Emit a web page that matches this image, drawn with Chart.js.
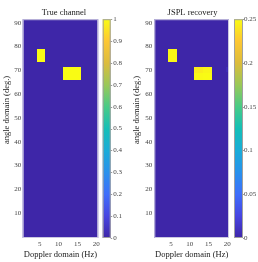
<!DOCTYPE html>
<html>
<head>
<meta charset="utf-8">
<script src="https://cdn.jsdelivr.net/npm/chart.js@4.4.0/dist/chart.umd.min.js"></script>
<style>
  html, body { margin: 0; padding: 0; background: #fff; }
  #wrap { position: relative; width: 258px; height: 262px; overflow: hidden; }
  .pane { position: absolute; top: 0; height: 262px; }
</style>
</head>
<body>
<div id="wrap">
  <div class="pane" style="left:0;width:128px"><canvas id="trueChart" width="128" height="262"></canvas></div>
  <div class="pane" style="left:127px;width:131px"><canvas id="jsplChart" width="131" height="262"></canvas></div>
</div>
<script>
// axis ticks
const dopplerTicks = [5, 10, 15, 20];
const angleTicks = [10, 20, 30, 40, 50, 60, 70, 80, 90];
const trueBarTicks = [0, 0.1, 0.2, 0.3, 0.4, 0.5, 0.6, 0.7, 0.8, 0.9, 1];
const jsplBarTicks = [0, 0.05, 0.1, 0.15, 0.2, 0.25];

// true channel: non-zero cells (Doppler span in Hz, angle span in deg.)
const trueDopplerLo = [4.2, 11.2];
const trueDopplerHi = [6.5, 16.0];
const trueAngleLo = [73.3, 66.1];
const trueAngleHi = [78.8, 71.6];
const trueValues = [1, 1];

// JSPL recovery: non-zero cells
const jsplDopplerLo = [4.2, 11.2, 13.6, 11.2, 13.6, 19.6];
const jsplDopplerHi = [6.5, 13.6, 16.0, 13.6, 16.0, 20.5];
const jsplAngleLo = [73.3, 68.9, 68.9, 66.1, 66.1, 69.5];
const jsplAngleHi = [78.8, 71.6, 71.6, 68.9, 68.9, 71.5];
const jsplValues = [0.248, 0.243, 0.247, 0.249, 0.25, 0.006];

const FONT = '"Liberation Serif", "DejaVu Serif", serif';

// parula-like colormap
const parulaStops = [
  [0.00, [62, 38, 168]],
  [0.10, [71, 69, 225]],
  [0.20, [62, 110, 251]],
  [0.30, [40, 145, 236]],
  [0.40, [25, 172, 216]],
  [0.50, [20, 191, 183]],
  [0.60, [72, 203, 134]],
  [0.70, [154, 200, 88]],
  [0.80, [220, 188, 60]],
  [0.90, [253, 199, 51]],
  [1.00, [249, 251, 20]]
];
function parula(t) {
  t = Math.max(0, Math.min(1, t));
  for (let i = 1; i < parulaStops.length; i++) {
    const [t1, c1] = parulaStops[i];
    const [t0, c0] = parulaStops[i - 1];
    if (t <= t1) {
      const f = (t - t0) / (t1 - t0);
      const c = c0.map((v, k) => Math.round(v + (c1[k] - v) * f));
      return `rgb(${c[0]},${c[1]},${c[2]})`;
    }
  }
  return 'rgb(249,251,20)';
}

const heatmapPlugin = {
  id: 'heatmap',
  beforeDatasetsDraw(chart, args, o) {
    const { ctx, chartArea: a, scales } = chart;
    const x = scales.x, y = scales.y, cb = scales.cb;
    ctx.save();
    ctx.fillStyle = parula(0);
    ctx.fillRect(a.left, a.top, a.width, a.height);
    chart.data.datasets[0].data.forEach(c => {
      const px0 = Math.round(x.getPixelForValue(c.x0)), px1 = Math.round(x.getPixelForValue(c.x1));
      const py0 = Math.round(y.getPixelForValue(c.y1)), py1 = Math.round(y.getPixelForValue(c.y0));
      ctx.fillStyle = parula(c.v / o.max);
      ctx.fillRect(px0, py0, px1 - px0, py1 - py0);
    });
    ctx.strokeStyle = '#cbc8e0';
    ctx.lineWidth = 1;
    ctx.strokeRect(a.left + 0.5, a.top + 0.5, a.width - 1, a.height - 1);

    // colorbar
    const bx = a.right + o.gap, bw = o.barWidth;
    const g = ctx.createLinearGradient(0, cb.bottom, 0, cb.top);
    parulaStops.forEach(([t]) => g.addColorStop(t, parula(t)));
    ctx.fillStyle = g;
    ctx.fillRect(bx, cb.top, bw, cb.bottom - cb.top);
    ctx.strokeStyle = '#a0a0a0';
    ctx.strokeRect(bx + 0.5, cb.top + 0.5, bw - 1, cb.bottom - cb.top - 1);
    ctx.strokeStyle = '#999';
    cb.ticks.forEach(t => {
      const py = Math.round(cb.getPixelForValue(t.value)) + 0.5;
      ctx.beginPath();
      ctx.moveTo(bx + bw, py);
      ctx.lineTo(bx + bw + 1.5, py);
      ctx.stroke();
    });
    ctx.restore();
  },
  afterDraw(chart, args, o) {
    // y-axis title, placed above the axis centre as in the original figure
    const { ctx, chartArea: a } = chart;
    ctx.save();
    ctx.translate(o.titleX, a.top + a.height * 0.415);
    ctx.rotate(-Math.PI / 2);
    ctx.font = '8.5px ' + FONT;
    ctx.fillStyle = '#1a1a1a';
    ctx.textAlign = 'center';
    ctx.textBaseline = 'middle';
    ctx.fillText('angle domain (deg.)', 0, 0);
    ctx.restore();
  }
};

function cells(lo, hi, alo, ahi, vals) {
  return vals.map((v, i) => ({
    x: (lo[i] + hi[i]) / 2, y: (alo[i] + ahi[i]) / 2,
    x0: lo[i], x1: hi[i], y0: alo[i], y1: ahi[i], v: v
  }));
}

function makeChart(id, title, data, barMax, barTicks, g) {
  const tickFont = { family: FONT, size: 7 };
  const titleFont = { family: FONT, size: 8.5, weight: 'normal' };
  return new Chart(document.getElementById(id), {
    type: 'scatter',
    data: { datasets: [{ data: data, pointRadius: 0, pointHoverRadius: 0 }] },
    plugins: [heatmapPlugin],
    options: {
      responsive: false,
      animation: false,
      devicePixelRatio: 1,
      events: [],
      layout: { padding: 0 },
      plugins: {
        legend: { display: false },
        tooltip: { enabled: false },
        title: {
          display: true, text: title, color: '#1a1a1a',
          font: titleFont, padding: { top: 1, bottom: 1 }
        },
        heatmap: { max: barMax, gap: g.gap, barWidth: g.barWidth, titleX: g.titleX }
      },
      scales: {
        x: {
          type: 'linear', position: 'bottom', min: 0.5, max: 20.5,
          afterBuildTicks: s => { s.ticks = dopplerTicks.map(v => ({ value: v })); },
          afterFit: s => { s.height = 24; },
          grid: { display: false, drawTicks: false },
          border: { display: false },
          ticks: { font: tickFont, color: '#444', padding: 2, maxRotation: 0, autoSkip: false, callback: v => String(v) },
          title: { display: true, text: 'Doppler domain (Hz)', font: titleFont, color: '#1a1a1a', padding: { top: 0, bottom: 2 } }
        },
        y: {
          type: 'linear', position: 'left', min: -0.5, max: 91.5,
          afterBuildTicks: s => { s.ticks = angleTicks.map(v => ({ value: v })); },
          afterFit: s => { s.width = g.left; },
          grid: { display: false, drawTicks: false },
          border: { display: false },
          ticks: { font: tickFont, color: '#444', padding: g.yPad, autoSkip: false, callback: v => String(v) }
        },
        cb: {
          type: 'linear', axis: 'y', position: 'right', min: 0, max: barMax,
          afterBuildTicks: s => { s.ticks = barTicks.map(v => ({ value: v })); },
          afterFit: s => { s.width = g.right; },
          grid: { display: false, drawTicks: false },
          border: { display: false },
          ticks: { font: tickFont, color: '#444', padding: g.cbPad, autoSkip: false, callback: v => String(v) }
        }
      }
    }
  });
}

makeChart('trueChart', 'True channel',
  cells(trueDopplerLo, trueDopplerHi, trueAngleLo, trueAngleHi, trueValues),
  1, trueBarTicks, { left: 22.7, right: 29.8, yPad: 1.5, gap: 4.5, barWidth: 8, cbPad: 15, titleX: 6.5 });

makeChart('jsplChart', 'JSPL recovery',
  cells(jsplDopplerLo, jsplDopplerHi, jsplAngleLo, jsplAngleHi, jsplValues),
  0.25, jsplBarTicks, { left: 27.3, right: 29, yPad: 2, gap: 5, barWidth: 9, cbPad: 15, titleX: 9.5 });
</script>
</body>
</html>
